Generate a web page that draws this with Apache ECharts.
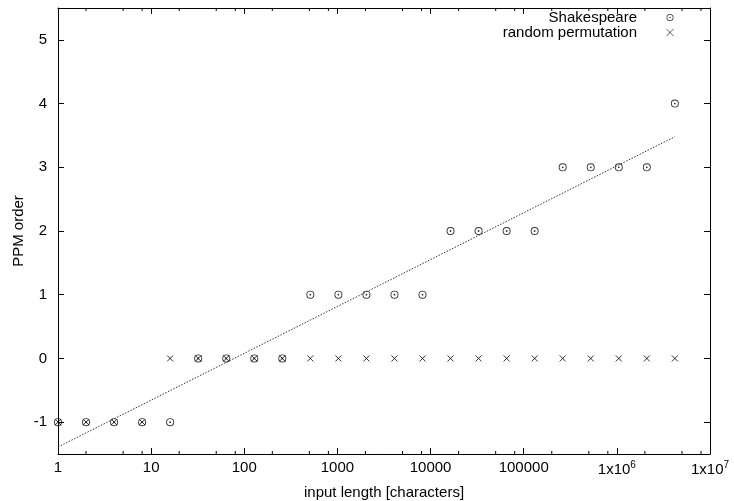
<!DOCTYPE html>
<html>
<head>
<meta charset="utf-8">
<script src="https://cdn.jsdelivr.net/npm/echarts@6/dist/echarts.min.js"></script>
<style>
  html, body { margin: 0; padding: 0; background: #fff; }
  #chart { width: 734px; height: 501px; }
</style>
</head>
<body>
<div id="chart"></div>
<script>
  // input lengths 1, 2, 4 ... 4194304
  var inputLength = [1, 2, 4, 8, 16, 32, 64, 128, 256, 512, 1024, 2048, 4096, 8192,
    16384, 32768, 65536, 131072, 262144, 524288, 1048576, 2097152, 4194304]
  var shakespeare = [-1, -1, -1, -1, -1, 0, 0, 0, 0, 1, 1, 1, 1, 1,
    2, 2, 2, 2, 3, 3, 3, 3, 4]
  var randomPerm = [-1, -1, -1, -1, 0, 0, 0, 0, 0, 0, 0, 0, 0, 0,
    0, 0, 0, 0, 0, 0, 0, 0, 0]
  // fitted line end points
  var fitX = [1, 4194304]
  var fitY = [-1.39, 3.48]
  // minor tick positions on the log axis
  var minorTicks = [2, 5, 8, 20, 50, 80, 200, 500, 800, 2000, 5000, 8000,
    20000, 50000, 80000, 200000, 500000, 800000, 2000000, 5000000, 8000000]
  var yMin = -1.5
  var yMax = 5.5

  var font = 'Liberation Sans, Arial, Helvetica, sans-serif'

  function pairs (xs, ys) {
    return xs.map(function (x, i) { return [x, ys[i]] })
  }

  var circleDot = 'path://M0,-4A4,4 0 1,1 0,4A4,4 0 1,1 0,-4Z' +
    'M0,-3.1A3.1,3.1 0 1,0 0,3.1A3.1,3.1 0 1,0 0,-3.1Z' +
    'M0,-0.9A0.9,0.9 0 1,1 0,0.9A0.9,0.9 0 1,1 0,-0.9Z'
  var cross = 'path://M0,0L10,10M10,0L0,10'

  var chart = echarts.init(document.getElementById('chart'))

  var xBase = {
    type: 'log',
    logBase: 10,
    min: 1,
    max: 10000000,
    splitNumber: 7,
    axisLine: { show: true, onZero: false, lineStyle: { color: '#000', width: 1 } },
    axisTick: { show: true, inside: true, length: 6, lineStyle: { color: '#000' } },
    splitLine: { show: false }
  }
  var yBase = {
    type: 'value',
    min: yMin,
    max: yMax,
    splitNumber: 7,
    axisLine: { show: true, onZero: false, lineStyle: { color: '#000', width: 1 } },
    axisTick: { show: true, inside: true, length: 6, lineStyle: { color: '#000' } },
    splitLine: { show: false }
  }

  var option = {
    animation: false,
    backgroundColor: '#fff',
    textStyle: { fontFamily: font },
    grid: { left: 58, right: 24, top: 8, bottom: 47, outerBoundsMode: 'none' },
    legend: {
      orient: 'vertical',
      right: 53,
      top: 5,
      align: 'right',
      itemGap: 0,
      itemWidth: 8,
      itemHeight: 7,
      textStyle: { fontFamily: font, fontSize: 15, color: '#000', padding: [0, 24, 0, 0] },
      data: [
        { name: 'Shakespeare' },
        { name: 'random permutation', itemStyle: { color: 'none', borderColor: '#000', borderWidth: 0.8 } }
      ]
    },
    xAxis: [
      Object.assign({}, xBase, {
        position: 'bottom',
        name: 'input length [characters]',
        nameLocation: 'middle',
        nameGap: 31,
        nameMoveOverlap: false,
        nameTextStyle: { fontFamily: font, fontSize: 15, color: '#000' },
        axisLabel: {
          color: '#000',
          fontFamily: font,
          fontSize: 15,
          margin: 6,
          formatter: function (v) {
            var e = Math.round(Math.log10(v))
            if (e >= 6) return '{b|1x10}{s|' + e + '}'
            return String(Math.round(v))
          },
          rich: {
            b: { fontFamily: font, fontSize: 15, color: '#000' },
            s: { fontFamily: font, fontSize: 10, color: '#000', verticalAlign: 'top', padding: [0, 0, 9, 0] }
          }
        }
      }),
      Object.assign({}, xBase, { position: 'top', axisLabel: { show: false } })
    ],
    yAxis: [
      Object.assign({}, yBase, {
        position: 'left',
        name: 'PPM order',
        nameLocation: 'middle',
        nameGap: 32,
        nameMoveOverlap: false,
        nameTextStyle: { fontFamily: font, fontSize: 15, color: '#000' },
        axisLabel: {
          color: '#000', fontFamily: font, fontSize: 15, margin: 11,
          showMinLabel: false, showMaxLabel: false,
          formatter: function (v) { return Math.abs(v - Math.round(v)) < 1e-6 ? String(Math.round(v)) : '' }
        }
      }),
      Object.assign({}, yBase, { position: 'right', axisLabel: { show: false } })
    ],
    series: [
      {
        name: 'minor ticks',
        type: 'custom',
        silent: true,
        xAxisIndex: 0,
        yAxisIndex: 0,
        clip: false,
        data: minorTicks.map(function (v) { return [v] }),
        renderItem: function (params, api) {
          var b = api.coord([api.value(0), yMin])
          var t = api.coord([api.value(0), yMax])
          var st = { stroke: '#000', lineWidth: 1 }
          return {
            type: 'group',
            children: [
              { type: 'line', shape: { x1: b[0], y1: b[1], x2: b[0], y2: b[1] - 3 }, style: st },
              { type: 'line', shape: { x1: t[0], y1: t[1], x2: t[0], y2: t[1] + 3 }, style: st }
            ]
          }
        }
      },
      {
        name: 'fit',
        type: 'line',
        data: pairs(fitX, fitY),
        symbol: 'none',
        silent: true,
        lineStyle: { color: '#333', width: 1, type: [1.5, 1.5] }
      },
      {
        name: 'Shakespeare',
        type: 'scatter',
        data: pairs(inputLength, shakespeare),
        symbol: circleDot,
        symbolSize: 8,
        itemStyle: { color: '#000' }
      },
      {
        name: 'random permutation',
        type: 'scatter',
        data: pairs(inputLength, randomPerm),
        symbol: cross,
        symbolSize: 6,
        itemStyle: { color: 'none', borderColor: '#000', borderWidth: 1 }
      }
    ]
  }

  chart.setOption(option)
</script>
</body>
</html>
